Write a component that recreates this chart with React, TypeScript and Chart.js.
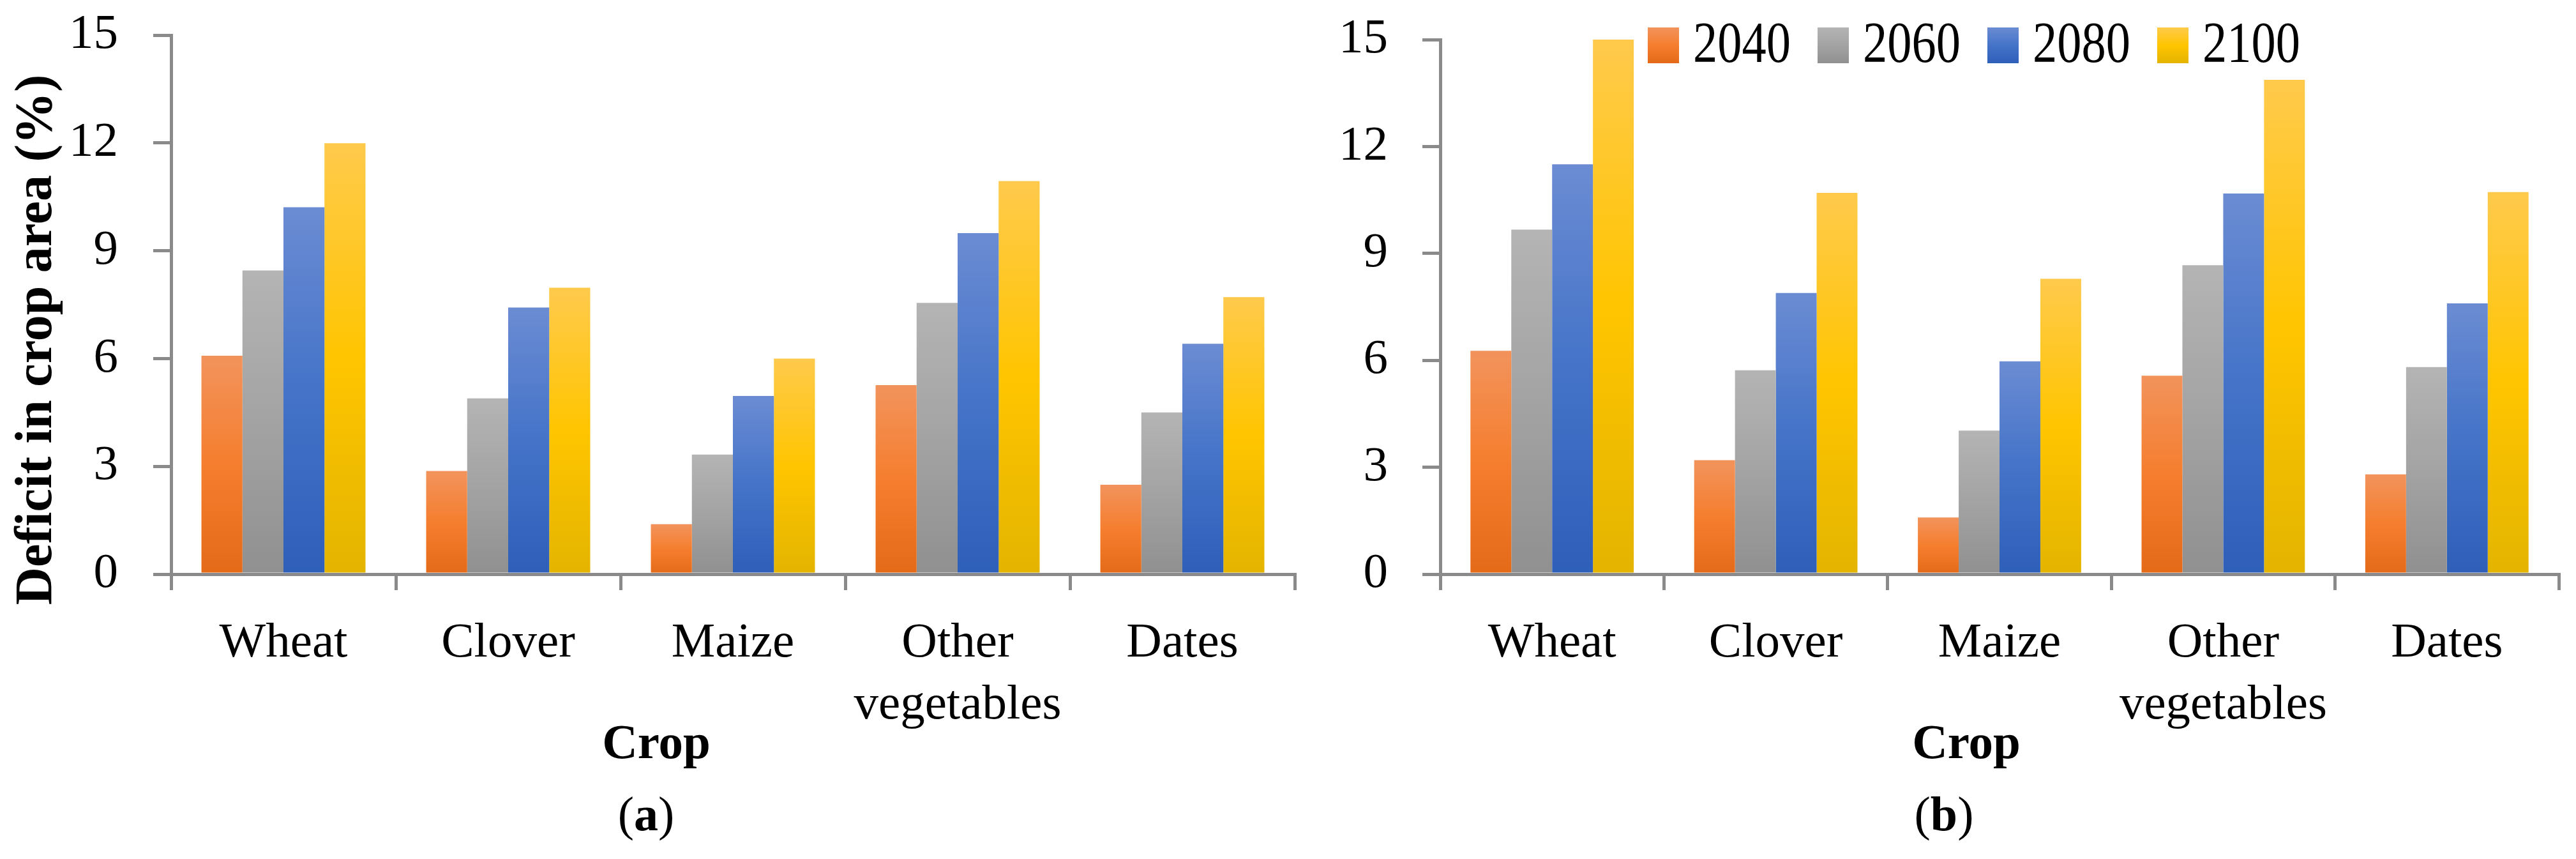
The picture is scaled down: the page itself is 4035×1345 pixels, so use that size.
import React, { useEffect, useRef } from 'react';
import { Chart, registerables } from 'chart.js';

Chart.register(...registerables);

// ---------- data ----------
const categories: (string | string[])[] = ['Wheat', 'Clover', 'Maize', ['Other', 'vegetables'], 'Dates'];
const seriesYears = ['2040', '2060', '2080', '2100'];

// panel (a)
const a2040 = [6.08, 2.87, 1.39, 5.26, 2.49];
const a2060 = [8.45, 4.89, 3.33, 7.55, 4.5];
const a2080 = [10.21, 7.42, 4.96, 9.49, 6.41];
const a2100 = [11.99, 7.97, 6.0, 10.94, 7.71];

// panel (b)
const b2040 = [6.27, 3.2, 1.59, 5.57, 2.8];
const b2060 = [9.67, 5.72, 4.03, 8.67, 5.81];
const b2080 = [11.5, 7.89, 5.97, 10.68, 7.6];
const b2100 = [15.01, 10.7, 8.29, 13.87, 10.72];

const yTickValues = [0, 3, 6, 9, 12, 15];
const yAxisTitle = 'Deficit in crop area (%)';
const xAxisTitle = 'Crop';

// ---------- style ----------
const FONT = '"Liberation Serif", "Times New Roman", serif';
const AXIS = '#8a8a8a';
const GRADIENTS: string[][] = [
  ['#F2935C', '#F57E2E', '#E46A18'],
  ['#B4B4B4', '#A3A3A3', '#909090'],
  ['#6B8CD3', '#4473C8', '#2E5FB9'],
  ['#FFCA4C', '#FFC500', '#E3B400'],
];
const FULL_H = 1345;
const PLOT_BOTTOM = 899;

function fillGradient(ctx: CanvasRenderingContext2D, top: number, bottom: number, i: number) {
  const g = ctx.createLinearGradient(0, top, 0, bottom);
  const s = GRADIENTS[i];
  g.addColorStop(0, s[0]);
  g.addColorStop(0.5, s[1]);
  g.addColorStop(1, s[2]);
  return g;
}

function barColor(c: any, i: number) {
  const chart = c.chart;
  if (!chart.chartArea || c.type !== 'data' || !chart.scales.y) return GRADIENTS[i][1];
  const y = chart.scales.y;
  const top = y.getPixelForValue(c.raw);
  const bottom = y.getPixelForValue(0);
  if (!isFinite(top) || !isFinite(bottom) || bottom - top < 1) return GRADIENTS[i][1];
  return fillGradient(chart.ctx, top, bottom, i);
}

const extraTextPlugin = {
  id: 'extraText',
  afterDraw(chart: any, _args: any, o: any) {
    const ctx: CanvasRenderingContext2D = chart.ctx;
    ctx.save();
    ctx.fillStyle = '#000';
    ctx.textBaseline = 'alphabetic';

    // x title
    ctx.font = `bold 77px ${FONT}`;
    ctx.textAlign = 'center';
    ctx.fillText(xAxisTitle, o.xTitleX, o.xTitleY);

    // caption "(a)" with bold letter
    const regular = `76px ${FONT}`;
    const bold = `bold 76px ${FONT}`;
    ctx.textAlign = 'left';
    ctx.font = regular;
    const wOpen = ctx.measureText('(').width;
    const wClose = ctx.measureText(')').width;
    ctx.font = bold;
    const wLetter = ctx.measureText(o.caption).width;
    let cx = o.captionX - (wOpen + wLetter + wClose) / 2;
    ctx.font = regular;
    ctx.fillText('(', cx, o.captionY);
    cx += wOpen;
    ctx.font = bold;
    ctx.fillText(o.caption, cx, o.captionY);
    cx += wLetter;
    ctx.font = regular;
    ctx.fillText(')', cx, o.captionY);

    // y title
    if (o.showYTitle) {
      ctx.save();
      ctx.translate(o.yTitleX, o.yTitleY);
      ctx.rotate(-Math.PI / 2);
      ctx.font = `bold 82px ${FONT}`;
      ctx.textAlign = 'center';
      ctx.fillText(yAxisTitle, 0, 0);
      ctx.restore();
    }

    // legend
    if (o.legend) {
      const L = o.legend;
      seriesYears.forEach((yr, i) => {
        const bx = L.x + i * L.step;
        ctx.fillStyle = fillGradient(ctx, L.boxTop, L.boxBottom, i);
        ctx.fillRect(bx, L.boxTop, L.boxW, L.boxBottom - L.boxTop);
        ctx.save();
        ctx.fillStyle = '#000';
        ctx.translate(bx + L.boxW + L.gap, L.baseline);
        ctx.scale(0.85, 1);
        ctx.font = `90px ${FONT}`;
        ctx.textAlign = 'left';
        ctx.fillText(yr, 0, 0);
        ctx.restore();
      });
    }
    ctx.restore();
  },
};

function makeConfig(values: number[][], p: any) {
  const tickFont = { family: FONT, size: 77, lineHeight: 1.25 };
  return {
    type: 'bar',
    data: {
      labels: categories,
      datasets: values.map((vals, i) => ({
        label: seriesYears[i],
        data: vals,
        backgroundColor: (c: any) => barColor(c, i),
        borderWidth: 0,
        categoryPercentage: 0.73,
        barPercentage: 1.0,
      })),
    },
    options: {
      animation: false,
      responsive: false,
      devicePixelRatio: 1,
      layout: { padding: { left: 0, top: p.top, right: p.right, bottom: 0 } },
      plugins: {
        legend: { display: false },
        tooltip: { enabled: false },
        extraText: p.text,
      },
      scales: {
        x: {
          type: 'category',
          offset: true,
          grid: {
            display: true,
            offset: true,
            drawOnChartArea: false,
            drawTicks: true,
            tickLength: 25,
            tickWidth: 5,
            lineWidth: 5,
            color: AXIS,
            tickColor: AXIS,
          },
          border: { display: true, color: AXIS, width: 5 },
          ticks: {
            font: tickFont,
            color: '#000',
            padding: 36,
            maxRotation: 0,
            minRotation: 0,
            autoSkip: false,
          },
          afterFit: (s: any) => {
            s.height = FULL_H - PLOT_BOTTOM;
            s.paddingLeft = 0;
            s.paddingRight = 0;
          },
        },
        y: {
          min: 0,
          max: 15,
          grid: {
            display: true,
            drawOnChartArea: false,
            drawTicks: true,
            tickLength: 28,
            tickWidth: 5,
            lineWidth: 5,
            color: AXIS,
            tickColor: AXIS,
          },
          border: { display: true, color: AXIS, width: 5 },
          ticks: {
            font: { family: FONT, size: 77 },
            color: '#000',
            padding: p.yPad,
          },
          afterBuildTicks: (s: any) => {
            s.ticks = yTickValues.map((v) => ({ value: v }));
          },
          afterFit: (s: any) => {
            s.width = p.yWidth;
            s.paddingTop = 0;
            s.paddingBottom = 0;
          },
        },
      },
    },
    plugins: [extraTextPlugin],
  };
}

function Panel(props: { values: number[][]; params: any; width: number; left: number }) {
  const ref = useRef<HTMLCanvasElement | null>(null);
  useEffect(() => {
    if (!ref.current) return;
    const chart = new Chart(ref.current, makeConfig(props.values, props.params) as any);
    return () => chart.destroy();
  }, []);
  return (
    <canvas
      ref={ref}
      width={props.width}
      height={FULL_H}
      style={{ position: 'absolute', left: props.left, top: 0, width: props.width, height: FULL_H }}
    />
  );
}

export default function App() {
  const leftParams = {
    top: 55,
    right: 7,
    yWidth: 268,
    yPad: 55,
    text: {
      xTitleX: 1028,
      xTitleY: 1187,
      caption: 'a',
      captionX: 1012,
      captionY: 1300,
      showYTitle: true,
      yTitleX: 80,
      yTitleY: 532,
    },
  };
  const rightParams = {
    top: 62,
    right: 27,
    yWidth: 221,
    yPad: 54,
    text: {
      xTitleX: 1045,
      xTitleY: 1187,
      caption: 'b',
      captionX: 1010,
      captionY: 1300,
      showYTitle: false,
      legend: { x: 546, step: 266, boxW: 49, boxTop: 43, boxBottom: 99, gap: 22, baseline: 97 },
    },
  };
  return (
    <div style={{ position: 'fixed', left: 0, top: 0, width: 4035, height: FULL_H, background: '#fff', overflow: 'hidden' }}>
      <Panel values={[a2040, a2060, a2080, a2100]} params={leftParams} width={2035} left={0} />
      <Panel values={[b2040, b2060, b2080, b2100]} params={rightParams} width={2000} left={2035} />
    </div>
  );
}
